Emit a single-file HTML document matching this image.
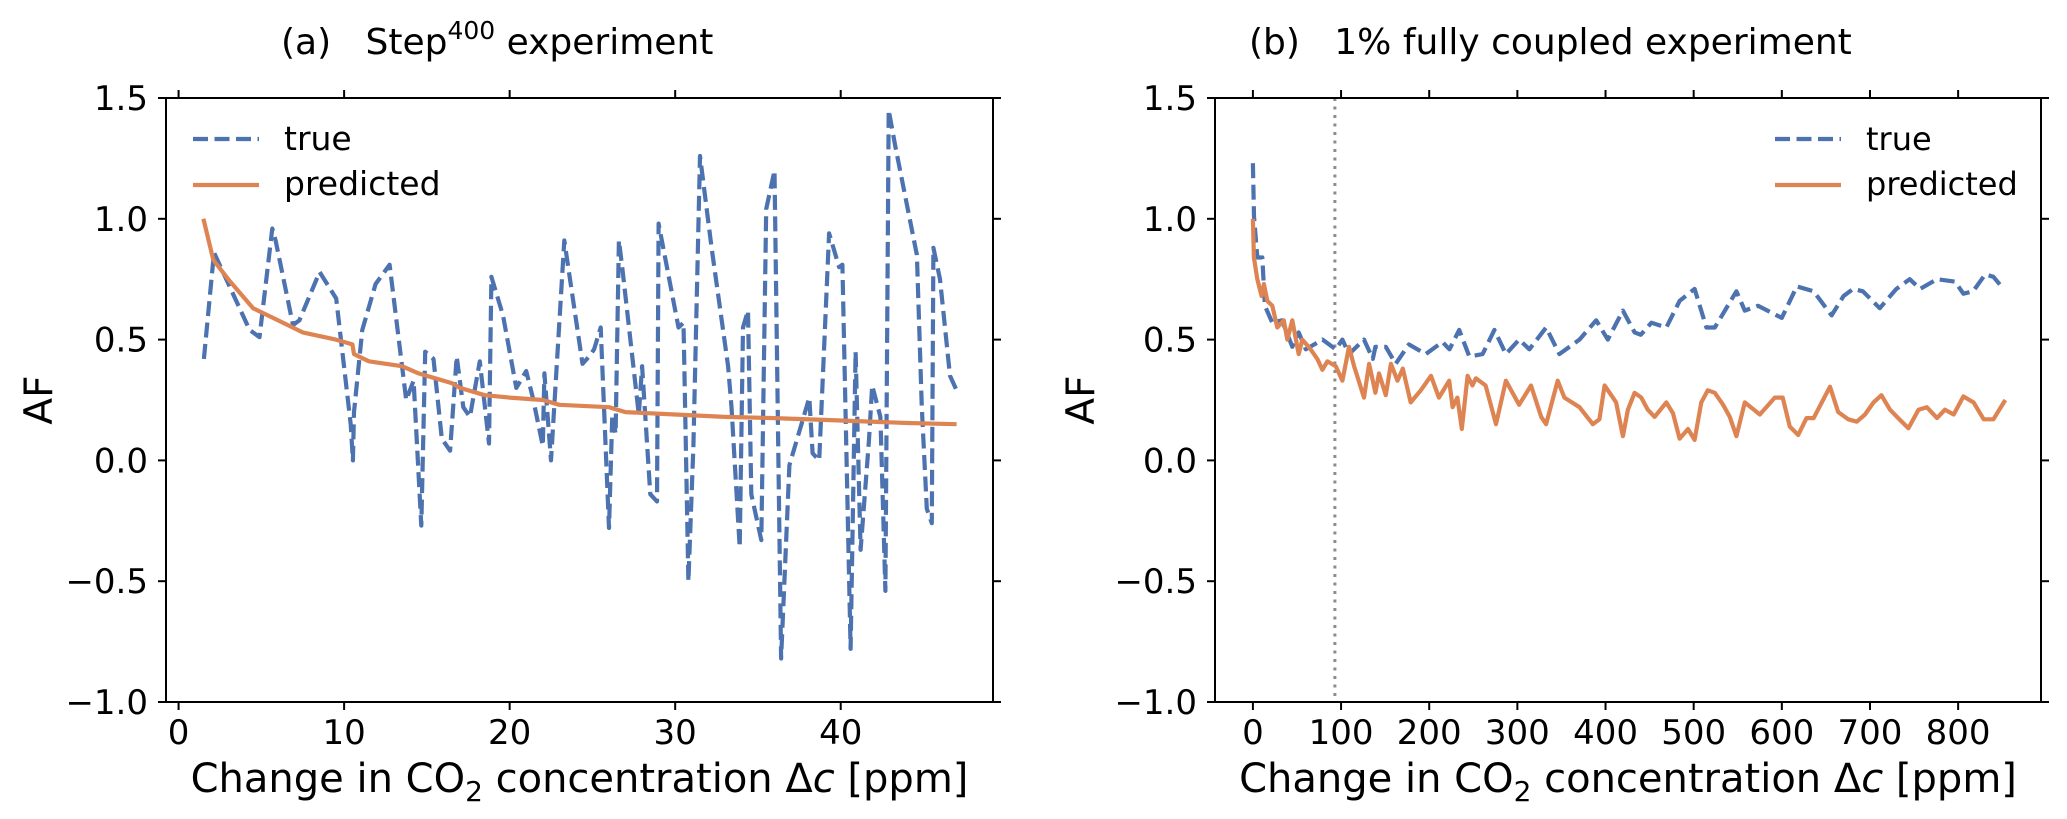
<!DOCTYPE html>
<html><head><meta charset="utf-8"><style>
html,body{margin:0;padding:0;background:#fff;}
svg{display:block;font-family:"DejaVu Sans","Liberation Sans",sans-serif;}
</style></head><body>
<svg id="fig" width="2067" height="819" viewBox="0 0 2067 819"></svg>
<script>
// ---- Panel (a) data: Step400 experiment ----
const aTrueX = [1.53,2.14,4.29,4.89,5.66,5.86,6.91,7.3,8.52,9.52,10.4,10.53,10.6,11.1,11.9,12.75,13.75,14.2,14.66,14.9,15.4,15.9,16.4,16.8,17.2,17.6,18.2,18.75,18.9,19.6,20.4,21,21.4,22,22.1,22.5,23.3,24.4,24.8,25.1,25.5,25.6,26.0,26.2,26.4,26.6,26.8,27.8,28.0,28.5,28.9,29.0,30.2,30.5,30.8,31.1,31.5,32.2,33.2,33.4,33.9,34.1,34.4,34.6,35.2,35.5,36.0,36.4,36.9,38.1,38.3,38.7,39.3,39.9,40.1,40.6,40.9,41.2,41.7,41.9,42.4,42.7,42.9,43.3,44.6,44.9,45.2,45.5,45.6,46.0,46.6,47.0];
const aTrueY = [0.42,0.86,0.54,0.51,0.96,0.91,0.56,0.58,0.78,0.67,0.15,0.0,0.2,0.54,0.73,0.81,0.25,0.33,-0.27,0.45,0.42,0.09,0.04,0.43,0.22,0.18,0.41,0.07,0.76,0.6,0.3,0.37,0.26,0.06,0.36,0.0,0.91,0.4,0.43,0.46,0.55,0.39,-0.28,0.19,0.11,0.91,0.8,0.19,0.39,-0.14,-0.17,0.98,0.55,0.57,-0.5,0.06,1.26,0.88,0.39,0.22,-0.36,0.55,0.62,-0.14,-0.33,1.04,1.2,-0.82,-0.02,0.26,0.03,0.0,0.94,0.8,0.81,-0.78,0.45,-0.37,0.08,0.31,0.18,-0.54,1.45,1.3,0.85,0.22,-0.2,-0.26,0.88,0.75,0.35,0.29];
const aPredX = [1.5,2.1,3,4.5,6,7.5,9.5,10.5,10.6,11.5,13.5,14.5,15.5,16.5,17,18.5,20,22,23,26,27,30,33,36,40,44,47];
const aPredY = [1.0,0.83,0.75,0.63,0.58,0.53,0.5,0.48,0.44,0.41,0.39,0.36,0.34,0.32,0.3,0.27,0.26,0.25,0.23,0.22,0.2,0.19,0.18,0.175,0.165,0.155,0.15];
const aXTicks = [0,10,20,30,40];
// ---- Panel (b) data: 1% fully coupled ----
const bTrueX = [0,1.2,5,10.6,13.6,22,33,44.7,52,60,79,94,101.5,109,126,136,139,150.8,162,177,196,215,223,234,245.5,260.6,274,287,302,313.6,332.6,347.7,370.5,389.4,402.6,419.7,433,440,452,469,484,501,514.4,524,548.5,558,573,600,617,636,656.5,670,681,692,711,730,745,757,776,796.6,806,817,830.7,840,851.5];
const bTrueY = [1.23,1.01,0.84,0.84,0.64,0.57,0.58,0.47,0.53,0.46,0.5,0.46,0.5,0.44,0.5,0.42,0.47,0.47,0.4,0.48,0.44,0.49,0.46,0.54,0.43,0.44,0.54,0.44,0.5,0.46,0.55,0.44,0.5,0.58,0.5,0.62,0.53,0.52,0.57,0.55,0.66,0.71,0.55,0.55,0.7,0.62,0.64,0.59,0.72,0.7,0.6,0.68,0.71,0.7,0.63,0.71,0.75,0.71,0.75,0.74,0.69,0.7,0.77,0.76,0.71];
const bPredX = [0,1.1,5,9.9,12.5,16.3,22,27.7,35,39,44.7,52,56,65.5,73,78.8,84.5,94,101.5,109,114.8,126,131.8,139,143,150.8,156.5,164,170,179,190.5,202,211,222.7,226.5,232,237,243.5,249,253,264,275.8,287,302,315.5,327,332.6,345.8,353.4,370.5,385.6,393,399,408.4,412,419.7,425.4,433,440.6,448,455.7,469,476.5,484,493.6,501,508.7,516,524,533.4,541,548.5,558,575,592,601,609,618.6,628,636,654.6,664,675.4,685,694.4,704,713,722.7,732,743.6,755,764.4,776,785,795,806,817.5,829,840,853.5];
const bPredY = [1.0,0.84,0.75,0.68,0.73,0.66,0.64,0.55,0.58,0.5,0.58,0.44,0.5,0.46,0.42,0.375,0.41,0.39,0.33,0.47,0.39,0.26,0.4,0.28,0.36,0.27,0.4,0.33,0.38,0.24,0.29,0.35,0.26,0.33,0.22,0.26,0.13,0.35,0.31,0.34,0.31,0.15,0.33,0.23,0.31,0.18,0.15,0.33,0.26,0.22,0.15,0.17,0.31,0.26,0.24,0.1,0.21,0.28,0.26,0.21,0.18,0.24,0.195,0.09,0.13,0.085,0.24,0.29,0.28,0.23,0.18,0.1,0.24,0.19,0.26,0.26,0.14,0.105,0.175,0.175,0.305,0.2,0.17,0.16,0.19,0.24,0.27,0.21,0.175,0.133,0.21,0.22,0.175,0.21,0.19,0.265,0.24,0.17,0.17,0.25];
const bXTicks = [0,100,200,300,400,500,600,700,800];
const vlineX = [93];
const yTicks = [-1.0,-0.5,0.0,0.5,1.0,1.5];

const NS = 'http://www.w3.org/2000/svg';
const svg = document.getElementById('fig');
function mk(tag, attrs, parent){ const e=document.createElementNS(NS,tag); for(const k in attrs) e.setAttribute(k,attrs[k]); (parent||svg).appendChild(e); return e; }
const BLUE='#4c72b0', ORANGE='#dd8452';

function panel(cfg){
  const g = mk('g',{});
  
  
  const L=cfg.l,R=cfg.r,T=98,B=702;
  const sx = v => L + (v-cfg.x0)/(cfg.x1-cfg.x0)*(R-L);
  const sy = v => T + (1.5-v)/(2.5)*(B-T);
  const clip = mk('clipPath',{id:'clip'+cfg.id},g);
  mk('rect',{x:L,y:T,width:R-L,height:B-T},clip);
  (cfg.vline||[]).forEach(v=>{
    const ln = mk('line',{x1:sx(v),x2:sx(v),y1:T,y2:B,stroke:'#8c8c8c','stroke-width':3,'stroke-dasharray':'3 5.5'},g);
    
    
  });
  const pts=(xs,ys)=>xs.map((x,i)=>sx(x).toFixed(1)+','+sy(ys[i]).toFixed(1)).join(' ');
  const t = mk('polyline',{points:pts(cfg.tx,cfg.ty),fill:'none',stroke:BLUE,'stroke-width':4.2,'stroke-dasharray':'15 6.5','stroke-linejoin':'round','clip-path':'url(#clip'+cfg.id+')'},g);
  
  
  const p = mk('polyline',{points:pts(cfg.px,cfg.py),fill:'none',stroke:ORANGE,'stroke-width':4.2,'stroke-linejoin':'round','clip-path':'url(#clip'+cfg.id+')'},g);
  
  
  const fr = mk('rect',{x:L,y:T,width:R-L,height:B-T,fill:'none',stroke:'#000','stroke-width':2},g);
  
  
  cfg.xt.forEach(v=>{
    const x=sx(v);
    mk('line',{x1:x,x2:x,y1:B,y2:B+8,stroke:'#000','stroke-width':2},g);
    mk('line',{x1:x,x2:x,y1:T,y2:T-8,stroke:'#000','stroke-width':2},g);
    const tx = mk('text',{x:x,y:744,'font-size':34,'text-anchor':'middle',fill:'#000'},g);
    tx.textContent = String(v);
    
    
  });
  yTicks.forEach(v=>{
    const y=sy(v);
    mk('line',{x1:L,x2:L-8,y1:y,y2:y,stroke:'#000','stroke-width':2},g);
    mk('line',{x1:R,x2:R+8,y1:y,y2:y,stroke:'#000','stroke-width':2},g);
    const tx = mk('text',{x:L-18,y:y+12,'font-size':34,'text-anchor':'end',fill:'#000'},g);
    tx.textContent = (v<0?'\u2212':'')+Math.abs(v).toFixed(1);
    
    
  });
  const lg = mk('g',{},g);
  
  
  mk('line',{x1:cfg.lgx,x2:cfg.lgx+66,y1:139,y2:139,stroke:BLUE,'stroke-width':4.2,'stroke-dasharray':'15 6.5'},lg);
  mk('line',{x1:cfg.lgx,x2:cfg.lgx+66,y1:185,y2:185,stroke:ORANGE,'stroke-width':4.2},lg);
  const l1=mk('text',{x:cfg.lgx+91,y:150,'font-size':cfg.lgf,fill:'#000'},lg); l1.textContent='true';
  
  
  const l2=mk('text',{x:cfg.lgx+91,y:195,'font-size':cfg.lgf,fill:'#000'},lg); l2.textContent='predicted';
  
  
  const xl = mk('text',{x:(L+R)/2,y:792,'font-size':40,'text-anchor':'middle',fill:'#000'},g);
  xl.innerHTML = 'Change in CO<tspan font-size="28" dy="9">2</tspan><tspan dy="-9"> concentration \u0394</tspan><tspan font-style="italic">c</tspan> [ppm]';
  
  
  const yl = mk('text',{x:cfg.ylx,y:400,'font-size':39,'text-anchor':'middle',fill:'#000',transform:'rotate(-90 '+cfg.ylx+' 400)'},g);
  yl.textContent='AF';
  
  
  const tt = mk('text',{x:cfg.tix,y:54,'font-size':36,fill:'#000'},g);
  tt.innerHTML = cfg.title;
  
  
}
panel({id:'a',name:'panel-a-step400',l:166,r:993,x0:-0.76,x1:49.2,tx:aTrueX,ty:aTrueY,px:aPredX,py:aPredY,xt:aXTicks,lgx:193,lgf:33,ylx:52,tix:281,
  title:'(a)\u00a0\u00a0\u00a0Step<tspan font-size="25" dy="-15">400</tspan><tspan dy="15"> experiment</tspan>'});
panel({id:'b',name:'panel-b-1pct-coupled',l:1215,r:2041,x0:-43,x1:894,tx:bTrueX,ty:bTrueY,px:bPredX,py:bPredY,xt:bXTicks,vline:vlineX,lgx:1775,lgf:32,ylx:1094,tix:1249,
  title:'(b)\u00a0\u00a0\u00a01% fully coupled experiment'});
</script>
</body></html>
